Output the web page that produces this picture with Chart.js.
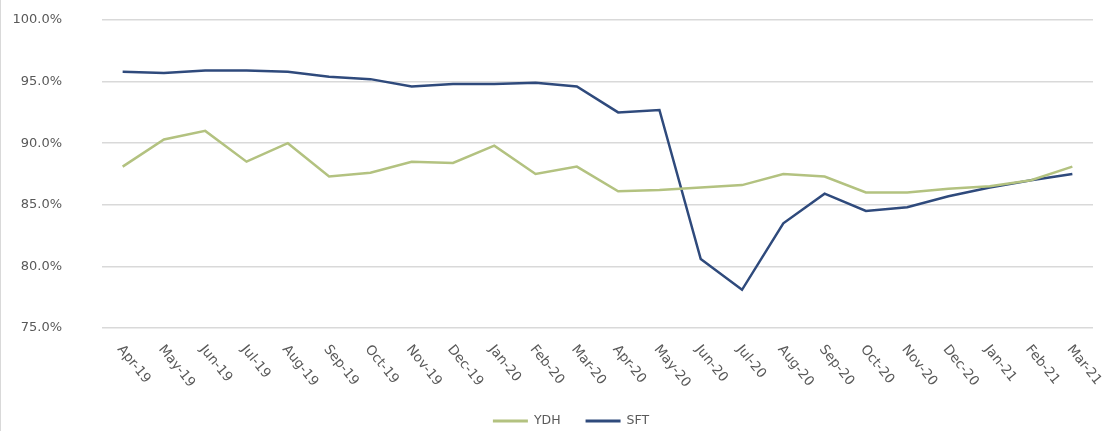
<!DOCTYPE html>
<html>
<head>
<meta charset="utf-8">
<script src="https://cdn.jsdelivr.net/npm/chart.js@4/dist/chart.umd.min.js"></script>
<style>
  html, body { margin: 0; padding: 0; background: #ffffff; }
  #wrap { width: 1109px; height: 431px; position: relative; }
</style>
</head>
<body>
<div id="wrap"><canvas id="myChart"></canvas></div>
<script>
const months = ['Apr-19', 'May-19', 'Jun-19', 'Jul-19', 'Aug-19', 'Sep-19', 'Oct-19', 'Nov-19',
  'Dec-19', 'Jan-20', 'Feb-20', 'Mar-20', 'Apr-20', 'May-20', 'Jun-20', 'Jul-20', 'Aug-20',
  'Sep-20', 'Oct-20', 'Nov-20', 'Dec-20', 'Jan-21', 'Feb-21', 'Mar-21'];

const ydh = [88.1, 90.3, 91.0, 88.5, 90.0, 87.3, 87.6, 88.5, 88.4, 89.8, 87.5, 88.1,
  86.1, 86.2, 86.4, 86.6, 87.5, 87.3, 86.0, 86.0, 86.3, 86.5, 87.0, 88.1];

const sft = [95.8, 95.7, 95.9, 95.9, 95.8, 95.4, 95.2, 94.6, 94.8, 94.8, 94.9, 94.6,
  92.5, 92.7, 80.6, 78.1, 83.5, 85.9, 84.5, 84.8, 85.7, 86.4, 87.0, 87.5];

const yTicks = [75, 80, 85, 90, 95, 100];

const textColor = '#595959';
const gridColor = '#d9d9d9';
const labelFont = '13px "DejaVu Sans"';

// axis texts + legend drawn by hand: x labels slant down to the right,
// which chart.js rotation can't do
const handLabels = {
  id: 'handLabels',
  afterDraw(chart) {
    const ctx = chart.ctx;
    const xScale = chart.scales.x;
    const yScale = chart.scales.y;
    ctx.save();
    ctx.font = labelFont;
    ctx.fillStyle = textColor;

    // y tick labels
    ctx.textAlign = 'right';
    ctx.textBaseline = 'middle';
    yTicks.forEach((v) => {
      ctx.fillText(v.toFixed(1) + '%', 62, yScale.getPixelForValue(v));
    });

    // x tick labels
    ctx.font = '13.5px "DejaVu Sans"';
    ctx.textAlign = 'left';
    months.forEach((label, i) => {
      const x = xScale.getPixelForTick(i);
      ctx.save();
      ctx.translate(x - 3, xScale.top + 19);
      ctx.rotate(51 * Math.PI / 180);
      ctx.fillText(label, 0, 0);
      ctx.restore();
    });

    // legend
    ctx.font = '12.5px "DejaVu Sans"';
    const lineLen = 35, gapText = 6, gapItem = 25;
    const items = chart.data.datasets.map(ds => ({
      text: ds.label, color: ds.borderColor, w: ctx.measureText(ds.label).width
    }));
    var total = 0;
    items.forEach((it, i) => { total += lineLen + gapText + it.w + (i ? gapItem : 0); });
    var lx = 571 - total / 2;
    const ly = 421;
    items.forEach((it) => {
      ctx.strokeStyle = it.color;
      ctx.lineWidth = 3;
      ctx.beginPath();
      ctx.moveTo(lx, ly);
      ctx.lineTo(lx + lineLen, ly);
      ctx.stroke();
      ctx.fillStyle = textColor;
      ctx.textAlign = 'left';
      ctx.fillText(it.text, lx + lineLen + gapText, ly);
      lx += lineLen + gapText + it.w + gapItem;
    });

    // thin frame line on the left edge
    ctx.strokeStyle = gridColor;
    ctx.lineWidth = 1;
    ctx.beginPath();
    ctx.moveTo(0.5, 0);
    ctx.lineTo(0.5, chart.height);
    ctx.stroke();
    ctx.restore();
  }
};

const data = {
  labels: months,
  datasets: [{
    label: 'YDH',
    data: ydh,
    borderColor: '#b3c280',
    backgroundColor: '#b3c280',
    borderWidth: 2.5,
    pointRadius: 0,
    tension: 0
  }, {
    label: 'SFT',
    data: sft,
    borderColor: '#2f4a7c',
    backgroundColor: '#2f4a7c',
    borderWidth: 2.5,
    pointRadius: 0,
    tension: 0
  }]
};

const config = {
  type: 'line',
  data: data,
  plugins: [handLabels],
  options: {
    responsive: false,
    animation: false,
    layout: {
      padding: { top: 20, right: 16, bottom: 0, left: 0 }
    },
    plugins: {
      legend: { display: false },
      tooltip: { enabled: false }
    },
    scales: {
      x: {
        offset: true,
        grid: { display: false, drawTicks: false },
        border: { display: false },
        ticks: { display: false },
        afterFit: (scale) => { scale.height = 103; }
      },
      y: {
        min: 75,
        max: 100,
        afterBuildTicks: (scale) => { scale.ticks = yTicks.map(v => ({ value: v })); },
        grid: { color: gridColor, lineWidth: 1.5, drawTicks: false },
        border: { display: false },
        ticks: { display: false },
        afterFit: (scale) => { scale.width = 102; }
      }
    }
  }
};

var canvas = document.getElementById('myChart');
canvas.width = 1109;
canvas.height = 431;
var myChart = new Chart(canvas.getContext('2d'), config);
</script>
</body>
</html>
